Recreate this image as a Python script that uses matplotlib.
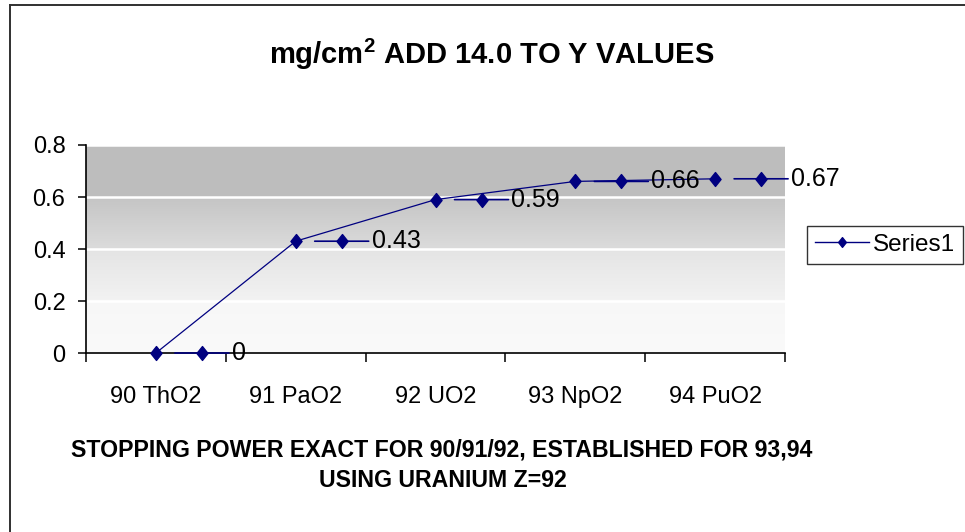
import numpy as np
import matplotlib
matplotlib.use("Agg")
import matplotlib.pyplot as plt
from matplotlib.transforms import offset_copy
from matplotlib.lines import Line2D
from matplotlib.path import Path

# ---- data ----
categories = ["90 ThO2", "91 PaO2", "92 UO2", "93 NpO2", "94 PuO2"]
values = [0.0, 0.43, 0.59, 0.66, 0.67]
value_labels = ["0", "0.43", "0.59", "0.66", "0.67"]
y_ticks = [0, 0.2, 0.4, 0.6, 0.8]
y_tick_labels = ["0", "0.2", "0.4", "0.6", "0.8"]
series_name = "Series1"
title = "mg/cm$^{\\mathbf{2}}$ ADD 14.0 TO Y VALUES"
x_title_lines = ["STOPPING POWER EXACT FOR 90/91/92, ESTABLISHED FOR 93,94",
                 "USING URANIUM Z=92"]

plt.rcParams['font.family'] = ['Liberation Sans', 'DejaVu Sans']
plt.rcParams['mathtext.fontset'] = 'custom'
plt.rcParams['mathtext.rm'] = 'Liberation Sans'
plt.rcParams['mathtext.bf'] = 'Liberation Sans:bold'

W, H = 965, 532
fig = plt.figure(figsize=(W / 100, H / 100), dpi=100)
fig.patch.set_facecolor('white')

def fx(px):
    return px / W

def fy(py):
    return 1 - py / H

# chart border (left and top visible)
fig.add_artist(Line2D([fx(10), fx(10)], [fy(5), fy(540)], color='#303030', lw=1.4))
fig.add_artist(Line2D([fx(10), fx(975)], [fy(5), fy(5)], color='#303030', lw=1.4))

ax = fig.add_axes([fx(86), fy(353), fx(785) - fx(86), fy(145) - fy(353)])

navy = '#000080'
diamond = Path([(0, 1), (0.8, 0), (0, -1), (-0.8, 0), (0, 1)],
               [Path.MOVETO, Path.LINETO, Path.LINETO, Path.LINETO, Path.CLOSEPOLY])

# gradient background
prof_x = [0.0, 0.25, 0.251, 0.5, 0.501, 0.75, 0.751, 1.0]
prof_g = [0.98, 0.97, 0.95, 0.894, 0.86, 0.77, 0.745, 0.745]
yy = np.linspace(0, 1, 400)
g = np.interp(yy, prof_x, prof_g)[::-1]
img = np.repeat(g[:, None], 2, axis=1)
ax.imshow(np.dstack([img, img, img]), extent=[0, 1, 0, 1], transform=ax.transAxes,
          aspect='auto', zorder=0, interpolation='bilinear')

x = np.arange(len(categories))
ax.set_xlim(-0.5, len(categories) - 0.5)
ax.set_ylim(0, 0.8)

# gridlines
ax.set_yticks(y_ticks)
ax.set_yticklabels(y_tick_labels)
ax.grid(axis='y', color='white', lw=1.8, zorder=1)
ax.set_axisbelow(False)

ax.plot(x, values, color=navy, lw=0.9, marker=diamond, markersize=10,
        markerfacecolor=navy, markeredgecolor=navy, zorder=5, clip_on=False)

# data labels with legend key
for xi, v, lab in zip(x, values, value_labels):
    t_start = offset_copy(ax.transData, fig=fig, x=19, y=0, units='dots')
    ax.annotate('', xy=(xi, v), xycoords=t_start, xytext=(54, 0),
                textcoords='offset pixels',
                arrowprops=dict(arrowstyle='-', color=navy, lw=1.2,
                                shrinkA=0, shrinkB=0), zorder=6,
                annotation_clip=False)
    t_mark = offset_copy(ax.transData, fig=fig, x=46, y=0, units='dots')
    ax.plot([xi], [v], transform=t_mark, marker=diamond, markersize=10,
            color=navy, linestyle='none', zorder=7, clip_on=False)
    ax.annotate(lab, xy=(xi, v), xytext=(76, 0), textcoords='offset pixels',
                va='center', ha='left', fontsize=18, color='black', zorder=8,
                annotation_clip=False)

# axes styling
for s in ['top', 'right']:
    ax.spines[s].set_visible(False)
for s in ['left', 'bottom']:
    ax.spines[s].set_color('black')
    ax.spines[s].set_linewidth(1.2)
    ax.spines[s].set_zorder(4)

ax.tick_params(axis='y', length=5.8, width=1.1, pad=9, labelsize=17, colors='black')
ax.set_xticks(np.arange(-0.5, len(categories)), labels=[''] * (len(categories) + 1))
ax.set_xticks(x, labels=categories, minor=True)
ax.tick_params(axis='x', which='major', length=6.5, width=1.1, direction='out')
ax.tick_params(axis='x', which='minor', length=0, pad=24, labelsize=17)

# title
fig.text(fx(492), fy(64), title, ha='center', va='baseline', fontsize=21,
         fontweight='bold')
# x axis title
fig.text(fx(442), fy(457), x_title_lines[0], ha='center', va='baseline',
         fontsize=16.7, fontweight='bold')
fig.text(fx(443), fy(487), x_title_lines[1], ha='center', va='baseline',
         fontsize=16.7, fontweight='bold')

# legend
handle = Line2D([0], [0], color=navy, lw=1.0, marker=diamond, markersize=7,
                markerfacecolor=navy, markeredgecolor=navy)
leg = fig.legend([handle], [series_name], loc='upper left',
                 bbox_to_anchor=(fx(807), fy(226)), fontsize=17.5,
                 frameon=True, fancybox=False, shadow=False,
                 borderpad=0.32, handlelength=2.25, handletextpad=0.15,
                 borderaxespad=0)
leg.get_frame().set_edgecolor('black')
leg.get_frame().set_linewidth(1.0)

fig.savefig('out.png', dpi=100)
